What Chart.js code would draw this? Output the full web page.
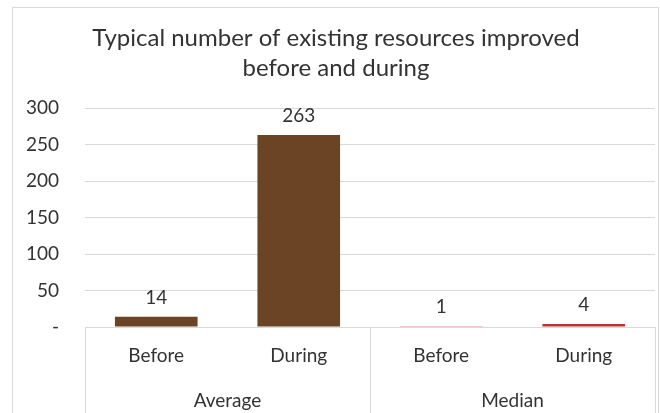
<!DOCTYPE html>
<html>
<head>
<meta charset="utf-8">
<script src="https://cdn.jsdelivr.net/npm/chart.js@4"></script>
<style>
  html, body { margin: 0; padding: 0; background: #fff; overflow: hidden; }
  #frame { position: absolute; left: 12px; top: 7px; width: 645px; height: 440px; border: 1px solid #d9d9d9; }
  #c { position: absolute; left: 0; top: 0; }
</style>
</head>
<body>
<div id="frame"></div>
<canvas id="c" width="660" height="413"></canvas>
<script>
// Values per period, grouped by statistic
const periods = ['Before', 'During', 'Before', 'During'];
const groups = ['Average', 'Median'];
const values = [14, 263, 1, 4];
const barColors = ['#6B4426', '#6B4426', '#B3392E', '#B3392E'];
const yTicks = [0, 50, 100, 150, 200, 250, 300];

const FONT = 'Lato';
const TEXT = '#333333';
const GRID = '#d9d9d9';

// Vertical separators of the two-level category axis
const groupLines = {
  id: 'groupLines',
  afterDraw(chart) {
    const x = chart.scales.x;
    const ctx = chart.ctx;
    const top = chart.chartArea.bottom;
    const bottom = chart.height;
    const mid = (x.getPixelForValue(1) + x.getPixelForValue(2)) / 2;
    ctx.save();
    ctx.strokeStyle = GRID;
    ctx.lineWidth = 1;
    [x.left, mid, x.right].forEach(px => {
      const p = Math.round(px) + 0.5;
      ctx.beginPath();
      ctx.moveTo(p, top);
      ctx.lineTo(p, bottom);
      ctx.stroke();
    });
    ctx.restore();
  }
};

// Value labels above each bar
const valueLabels = {
  id: 'valueLabels',
  afterDatasetsDraw(chart) {
    const ctx = chart.ctx;
    const meta = chart.getDatasetMeta(0);
    ctx.save();
    ctx.font = `19px ${FONT}`;
    ctx.fillStyle = TEXT;
    ctx.textAlign = 'center';
    ctx.textBaseline = 'alphabetic';
    meta.data.forEach((bar, i) => {
      ctx.fillText(String(values[i]), bar.x, bar.y - 13);
    });
    ctx.restore();
  }
};

new Chart(document.getElementById('c'), {
  type: 'bar',
  data: {
    labels: periods,
    datasets: [{
      data: values,
      backgroundColor: barColors,
      borderWidth: 0,
      categoryPercentage: 1,
      barPercentage: 0.58
    }]
  },
  options: {
    responsive: false,
    animation: false,
    events: [],
    layout: { padding: { left: 17, right: 5, top: 0, bottom: 0 } },
    plugins: {
      legend: { display: false },
      tooltip: { enabled: false },
      title: {
        display: true,
        text: ['Typical number of existing resources improved', 'before and during'],
        color: TEXT,
        font: { family: FONT, size: 24, weight: 'normal', lineHeight: 1.25 },
        padding: { top: 23, bottom: 25 }
      }
    },
    scales: {
      x: {
        position: 'bottom',
        grid: { display: false, drawTicks: false },
        border: { display: true, color: GRID, width: 1 },
        ticks: { color: TEXT, font: { family: FONT, size: 19 }, padding: 17, maxRotation: 0 },
        afterFit(scale) { scale.height = 40; }
      },
      x2: {
        type: 'category',
        position: 'bottom',
        labels: groups,
        offset: true,
        grid: { display: false, drawTicks: false },
        border: { display: false },
        ticks: { color: TEXT, font: { family: FONT, size: 19 }, padding: 22, maxRotation: 0 },
        afterFit(scale) { scale.height = 46; }
      },
      y: {
        min: 0,
        max: 300,
        grid: { color: GRID, lineWidth: 1, drawTicks: false },
        border: { display: false },
        afterBuildTicks(scale) { scale.ticks = yTicks.map(v => ({ value: v })); },
        ticks: {
          color: TEXT,
          font: { family: FONT, size: 19 },
          padding: 26,
          callback: v => (v === 0 ? '-' : String(v))
        },
        afterFit(scale) { scale.width = 68; }
      }
    }
  },
  plugins: [groupLines, valueLabels]
});
</script>
</body>
</html>
